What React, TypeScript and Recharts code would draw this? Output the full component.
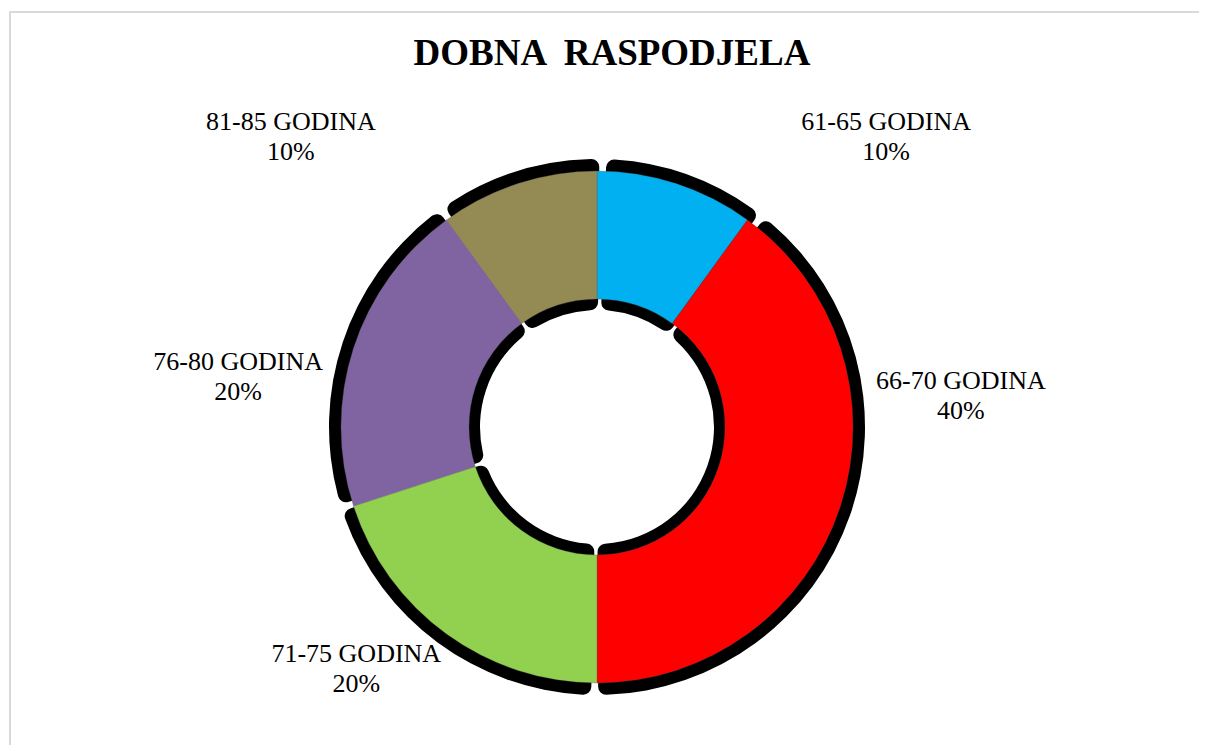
import { PieChart, Pie, Cell } from "recharts"

const ageGroups = ["61-65 GODINA", "66-70 GODINA", "71-75 GODINA", "76-80 GODINA", "81-85 GODINA"]
const shares = [10, 40, 20, 20, 10]
const sliceColors = ["#00B0F0", "#FF0000", "#92D050", "#8064A2", "#948A54"]

const data = ageGroups.map((name, i) => ({ name, value: shares[i] }))

// Excel style "best fit" label placement, nudged from a radial spot
const labelNudge = [
  [181, 42],
  [31, -140],
  [-35, -42],
  [-26, 58],
  [-198, 42],
]

const RADIAN = Math.PI / 180
const FONT = "'Liberation Serif', 'Times New Roman', serif"

function renderLabel(props: any) {
  const { cx, cy, midAngle, index, name, percent } = props
  const r = 350
  const x = cx + r * Math.cos(-midAngle * RADIAN) + labelNudge[index][0]
  const y = cy + r * Math.sin(-midAngle * RADIAN) + labelNudge[index][1]
  return (
    <text
      key={`lbl-${index}`}
      x={x}
      y={y}
      textAnchor="middle"
      style={{ fontFamily: FONT, fontSize: 26 }}
      fill="#000"
    >
      <tspan x={x} y={y - 15} dominantBaseline="central">{name}</tspan>
      <tspan x={x} y={y + 15} dominantBaseline="central">{`${Math.round(percent * 100)}%`}</tspan>
    </text>
  )
}

export default function App() {
  return (
    <div style={{ position: "relative", width: 1199, height: 737, overflow: "hidden", background: "#fff" }}>
      <div
        style={{
          position: "absolute",
          left: 1,
          top: 3,
          width: 1250,
          height: 800,
          border: "2px solid #d9d9d9",
          boxSizing: "border-box",
        }}
      />
      <div
        style={{
          position: "absolute",
          left: 0,
          top: 26,
          width: 1208,
          textAlign: "center",
          fontFamily: FONT,
          fontWeight: "bold",
          fontSize: 37,
          lineHeight: "37px",
          whiteSpace: "pre",
        }}
      >
        {"DOBNA  RASPODJELA"}
      </div>
      <div style={{ position: "absolute", left: 0, top: 0 }}>
        <PieChart width={1199} height={737} margin={{ top: 0, right: 0, bottom: 0, left: 0 }}>
          {/* black shadow behind the ring */}
          <Pie
            data={data}
            dataKey="value"
            cx={589}
            cy={419}
            startAngle={88}
            endAngle={-272}
            innerRadius={117}
            outerRadius={268}
            paddingAngle={1.5}
            cornerRadius={8}
            stroke="none"
            fill="#000"
            isAnimationActive={false}
          />
          <Pie
            data={data}
            dataKey="value"
            cx={589}
            cy={419}
            startAngle={90}
            endAngle={-270}
            innerRadius={128}
            outerRadius={256}
            stroke="#555"
            strokeWidth={0.3}
            label={renderLabel}
            labelLine={false}
            isAnimationActive={false}
          >
            {data.map((d, i) => (
              <Cell key={d.name} fill={sliceColors[i]} />
            ))}
          </Pie>
        </PieChart>
      </div>
    </div>
  )
}
